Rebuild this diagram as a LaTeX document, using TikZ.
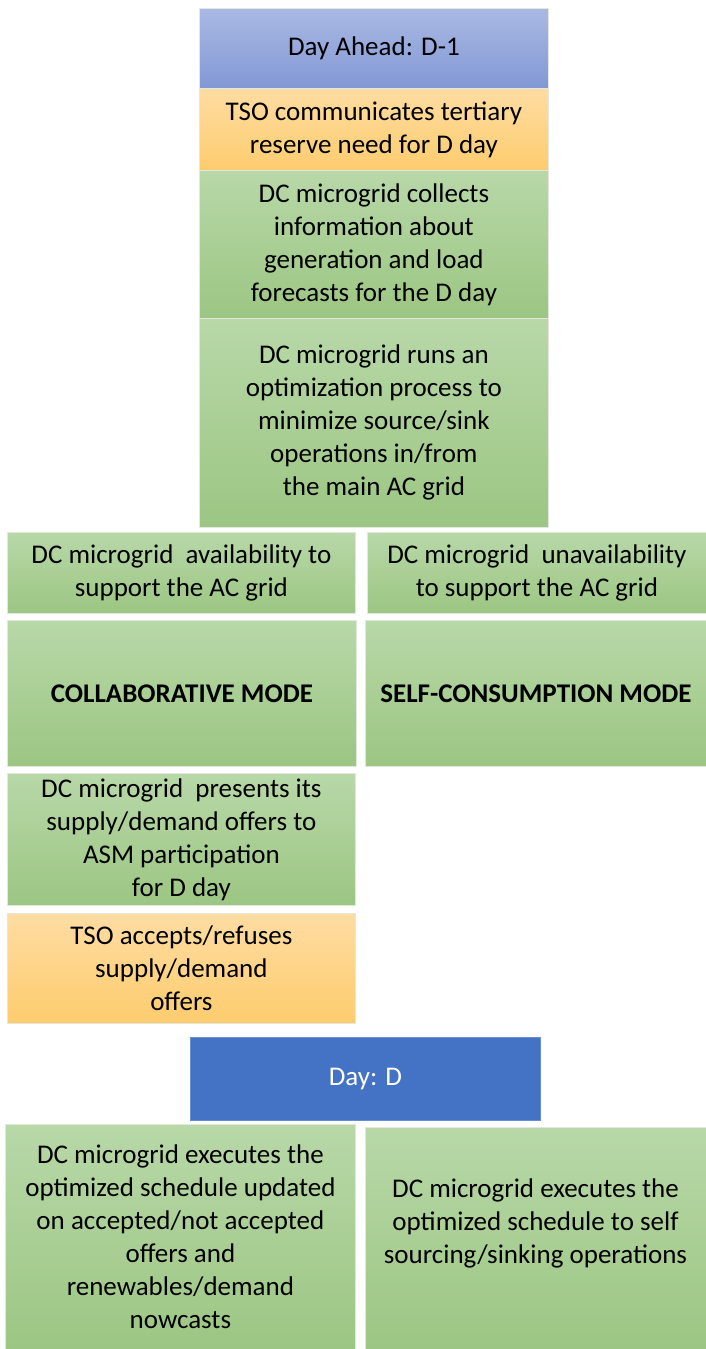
\documentclass[tikz,border=0pt]{standalone}
\usepackage{fontspec}
\setmainfont{Carlito}
\definecolor{blueT}{HTML}{AAB9E3}
\definecolor{blueB}{HTML}{8298D5}
\definecolor{orT}{HTML}{FEDCA2}
\definecolor{orB}{HTML}{FDCC6E}
\definecolor{grT}{HTML}{B8D8A8}
\definecolor{grB}{HTML}{9CC683}
\definecolor{dayD}{HTML}{4472C4}
\definecolor{edge}{HTML}{E2E8DE}
\begin{document}
\begin{tikzpicture}[x=1pt,y=-1pt,
  base/.style={rectangle, anchor=north west, inner sep=0pt, align=center,
    font=\fontsize{27}{33}\selectfont, text=black, draw=edge, line width=0.8pt},
  gbox/.style={base, top color=grT, bottom color=grB},
  obox/.style={base, top color=orT, bottom color=orB},
  bbox/.style={base, top color=blueT, bottom color=blueB},
  dbox/.style={base, fill=dayD, draw=dayD!80!white, text=white}]
\useasboundingbox (0,0) rectangle (706,1349);
\fill[white] (0,0) rectangle (706,1349);
\node[bbox, minimum width=349pt, minimum height=80pt] (ahead) at (199,8) {Day Ahead: D-1};
\node[obox, minimum width=349pt, minimum height=82pt] (tso1) at (199,88) {TSO communicates tertiary\\reserve need for D day};
\node[gbox, minimum width=349pt, minimum height=148pt] (collect) at (199,170) {DC microgrid collects\\information about\\generation and load\\forecasts for the D day};
\node[gbox, minimum width=349pt, minimum height=209pt] (optim) at (199,318) {DC microgrid runs an\\optimization process to\\minimize source/sink\\operations in/from\\the main AC grid};
\node[gbox, minimum width=348pt, minimum height=81pt] (avail) at (7,532) {DC microgrid\ \ availability to\\support the AC grid};
\node[gbox, minimum width=339pt, minimum height=81pt] (unavail) at (367,532) {DC microgrid\ \ unavailability\\to support the AC grid};
\node[gbox, minimum width=349pt, minimum height=146pt] (collab) at (7,620) {\textbf{COLLABORATIVE MODE}};
\node[gbox, minimum width=341pt, minimum height=146pt] (self) at (365,620) {\textbf{SELF-CONSUMPTION MODE}};
\node[gbox, minimum width=348pt, minimum height=132pt] (present) at (7,773) {DC microgrid\ \ presents its\\supply/demand offers to\\ASM participation\\for D day};
\node[obox, minimum width=348pt, minimum height=110pt] (tso2) at (7,913) {TSO accepts/refuses\\supply/demand\\offers};
\node[dbox, minimum width=350pt, minimum height=83pt] (day) at (190,1037) {Day: D};
\node[gbox, minimum width=350pt, minimum height=225pt] (exec1) at (5,1124) {DC microgrid executes the\\optimized schedule updated\\on accepted/not accepted\\offers and\\renewables/demand\\nowcasts};
\node[gbox, minimum width=341pt, minimum height=222pt] (exec2) at (365,1127) {};
\node[base, draw=none, anchor=center] (exec2t) at (535.5,1223) {DC microgrid executes the\\optimized schedule to self\\sourcing/sinking operations};
\end{tikzpicture}
\end{document}
